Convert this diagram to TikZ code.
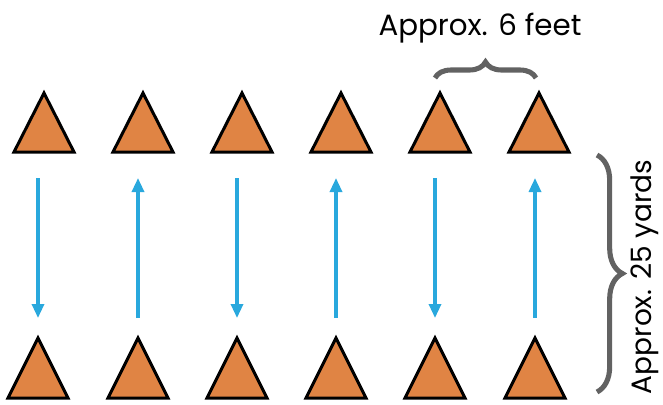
\documentclass[tikz,border=0pt]{standalone}
\usepackage{fontspec}
\setmainfont{Poppins}
\usetikzlibrary{arrows.meta}
\usetikzlibrary{decorations.pathreplacing}
\definecolor{conecolor}{RGB}{224,132,68}
\definecolor{lanecolor}{RGB}{41,168,221}
\definecolor{bracegray}{RGB}{98,98,98}

\begin{document}
\begin{tikzpicture}[x=0.75pt,y=0.75pt,yscale=-1,xscale=1,
  cone/.style={line width=2.25pt,fill=conecolor,line join=miter},
  lane/.style={lanecolor,line width=2.4pt,-{Triangle[length=10.5pt,width=9pt]}},
  gapbrace/.style={bracegray,line width=3.8pt,decorate}]
\useasboundingbox (0,0) rectangle (663,404);

%Shape: top row of cones
\foreach \cx [count=\i] in {44,143,242,341,440,539} {
  \draw [cone] (\cx,93) -- (\cx+30,152) -- (\cx-30,152) -- cycle ;
}
%Shape: bottom row of cones
\foreach \cx [count=\i] in {38,138,237,336,435,535} {
  \draw [cone] (\cx,338) -- (\cx+30,398) -- (\cx-30,398) -- cycle ;
  \coordinate (up\i) at (\cx,178) ;
  \coordinate (dn\i) at (\cx,318) ;
}

% Arrows between the rows
\draw [lane] (up1) -- (dn1) ;
\draw [lane] (dn2) -- (up2) ;
\draw [lane] (up3) -- (dn3) ;
\draw [lane] (dn4) -- (up4) ;
\draw [lane] (up5) -- (dn5) ;
\draw [lane] (dn6) -- (up6) ;

%Shape: Braces
\coordinate (feetL) at (435,78) ;
\coordinate (feetR) at (536,78) ;
\coordinate (yardT) at (597,155) ;
\coordinate (yardB) at (597,392) ;
\draw [gapbrace,decoration={brace,amplitude=12pt}] (feetL) -- (feetR) ;
\draw [gapbrace,decoration={brace,amplitude=19pt}] (yardT) -- (yardB) ;

% Text Node
\draw (480,35) node [anchor=base][inner sep=0.75pt] (feet) {\fontsize{22}{24}\selectfont Approx. 6 feet};
% Text Node
\draw (651,277) node [anchor=base,rotate=90][inner sep=0.75pt] (yards) {\fontsize{21}{24}\selectfont Approx. 25 yards};

\end{tikzpicture}
\end{document}
